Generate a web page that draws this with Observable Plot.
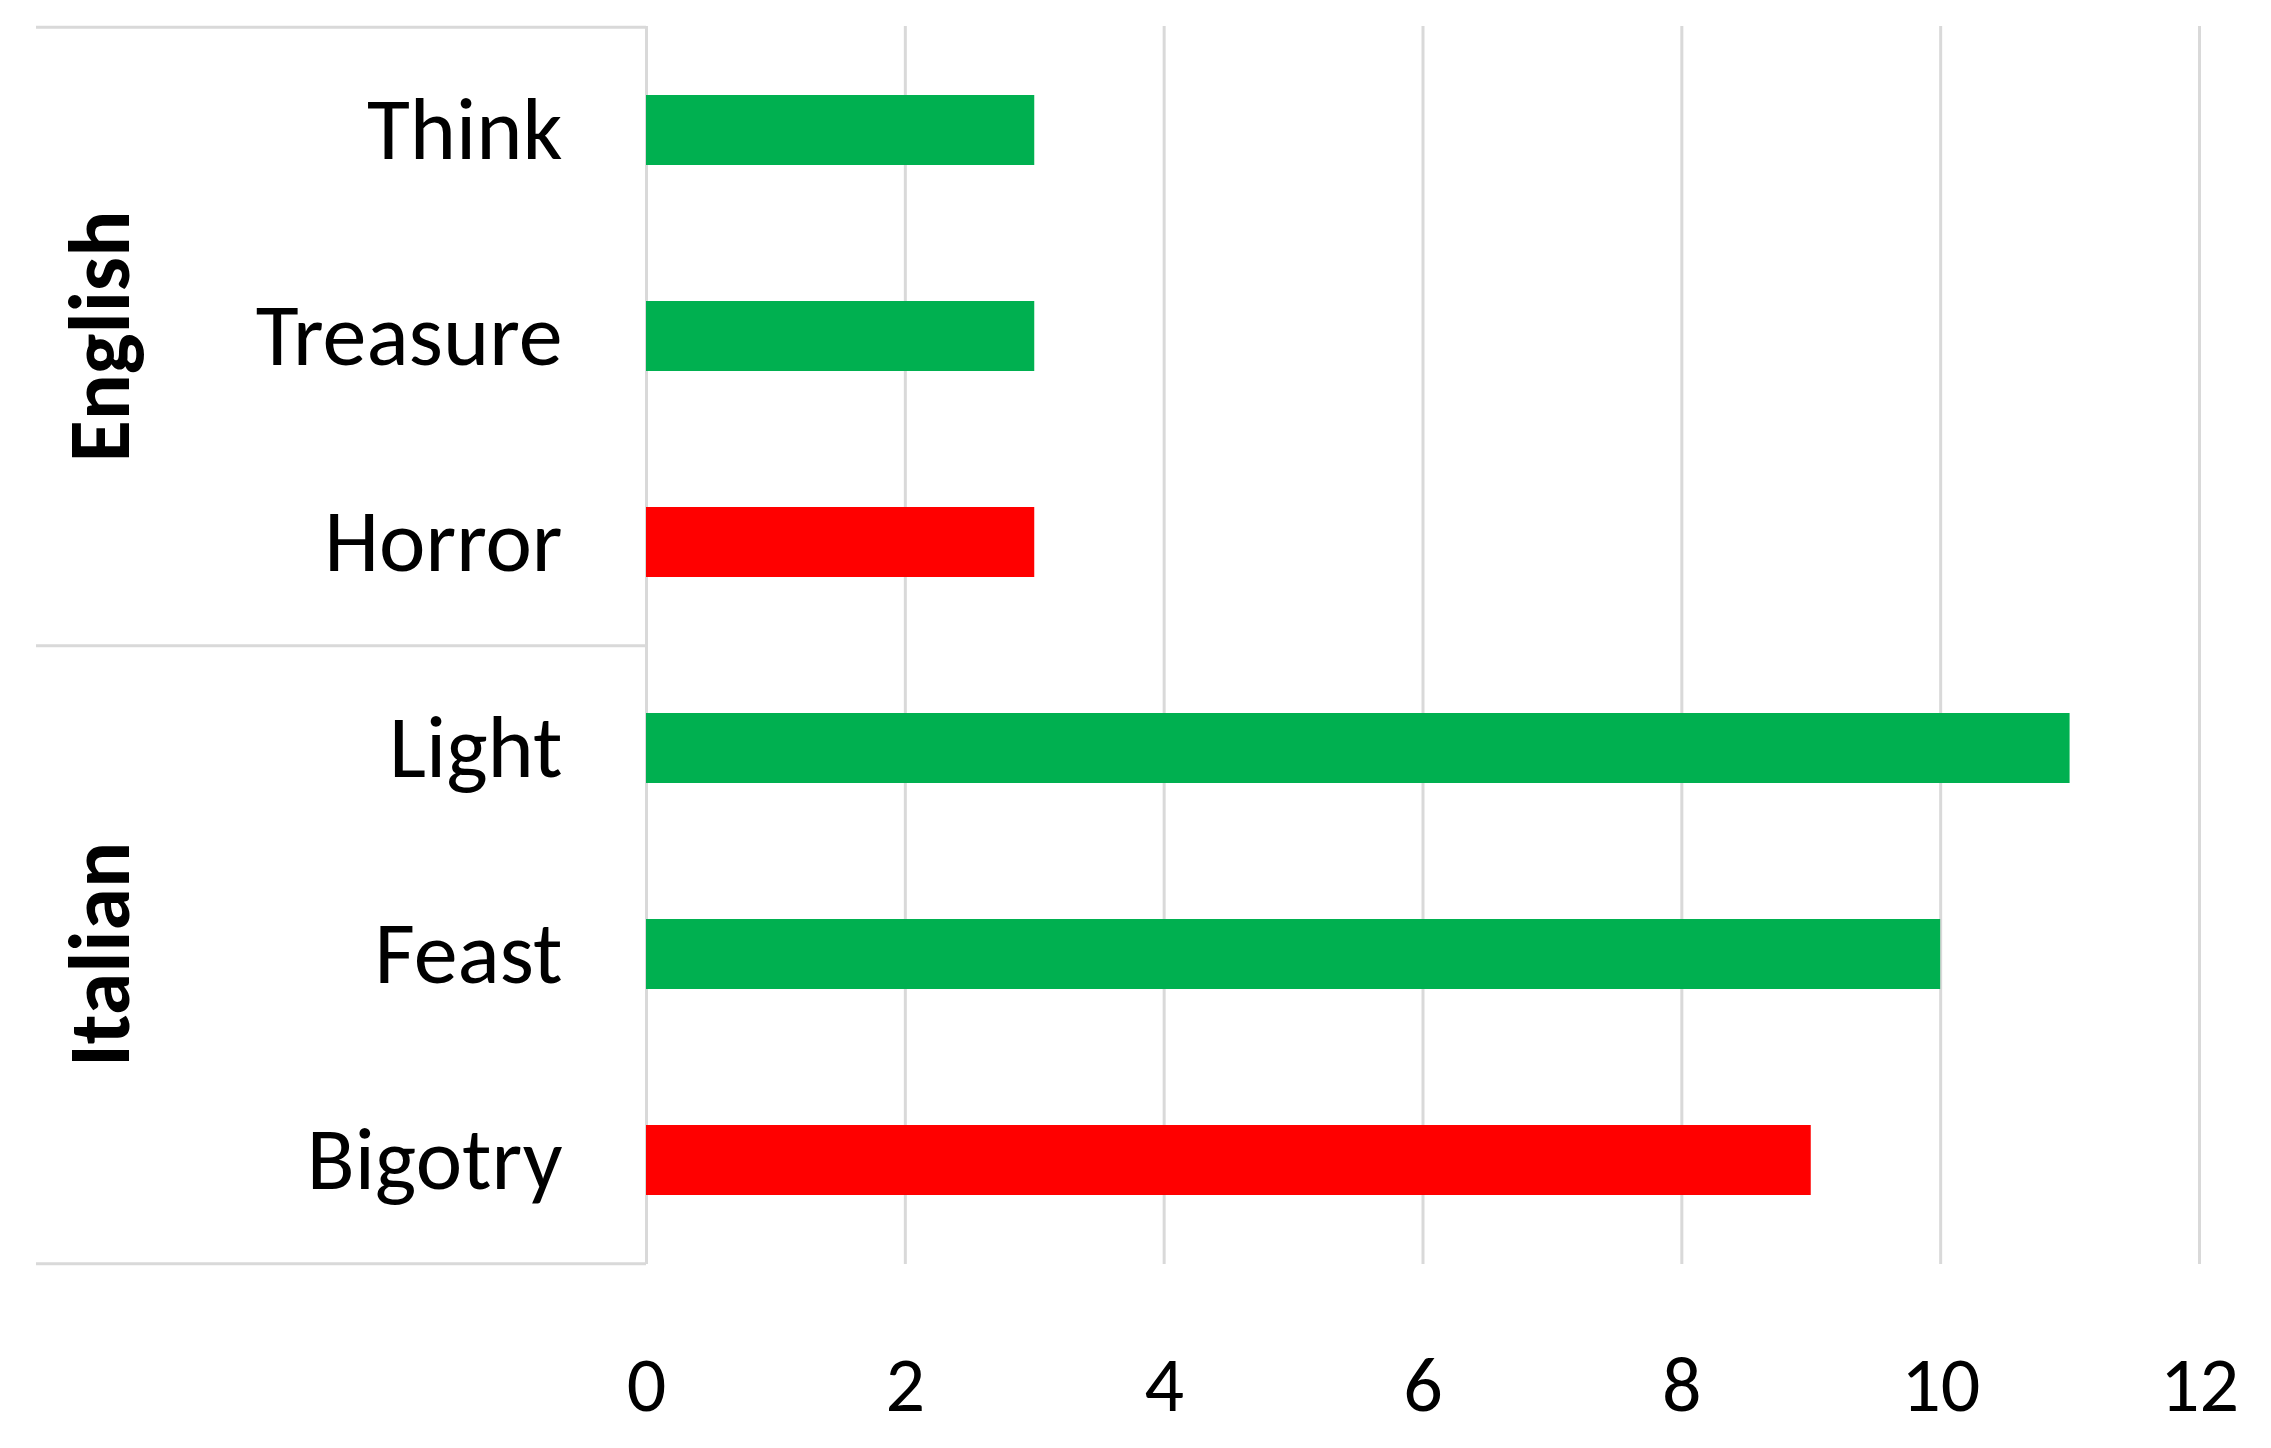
<!DOCTYPE html>
<html>
<head>
<meta charset="utf-8">
<script src="https://cdn.jsdelivr.net/npm/d3@7"></script>
<script src="https://cdn.jsdelivr.net/npm/@observablehq/plot@0.6"></script>
<style>
  html, body { margin: 0; padding: 0; background: #fff; }
  svg { display: block; }
</style>
</head>
<body>
<div id="chart"></div>
<script>
const words = ["Think", "Treasure", "Horror", "Light", "Feast", "Bigotry"];
const languages = ["English", "English", "English", "Italian", "Italian", "Italian"];
const values = [3, 3, 3, 11, 10, 9];
const sentiments = ["positive", "positive", "negative", "positive", "positive", "negative"];
const xTicks = [0, 2, 4, 6, 8, 10, 12];
const groupLabels = ["English", "Italian"];
const groupCenters = ["Treasure", "Feast"];
const groupTops = ["Think"];
const groupBottoms = ["Horror", "Bigotry"];

const data = words.map((w, i) => ({word: w, language: languages[i], value: values[i], sentiment: sentiments[i]}));

const W = 2271, H = 1448;
const mTop = 26, mBottom = 184, mLeft = 646, mRight = 72;
const step = (H - mTop - mBottom) / words.length;
const boxLeft = 36;
const font = "Carlito, Calibri, Lato, sans-serif";
const gray = "#d9d9d9";

function boxRender(index, scales, vals, dims, context, next) {
  const g = next(index, scales, vals, dims, context);
  g.querySelectorAll("line").forEach(l => {
    l.setAttribute("x1", boxLeft);
    l.setAttribute("x2", dims.marginLeft);
  });
  return g;
}

const chart = Plot.plot({
  width: W,
  height: H,
  marginTop: mTop,
  marginBottom: mBottom,
  marginLeft: mLeft,
  marginRight: mRight,
  style: {fontFamily: font, background: "#fff", color: "#000"},
  x: {domain: [0, 12], ticks: xTicks},
  y: {domain: words, paddingInner: 0.66, paddingOuter: 0.33},
  color: {domain: ["positive", "negative"], range: ["#00B050", "#FF0000"]},
  marks: [
    Plot.gridX(xTicks, {stroke: gray, strokeOpacity: 1, strokeWidth: 3}),
    Plot.ruleY(groupTops, {y: d => d, dy: -step / 2, stroke: gray, strokeWidth: 3, render: boxRender}),
    Plot.ruleY(groupBottoms, {y: d => d, dy: step / 2, stroke: gray, strokeWidth: 3, render: boxRender}),
    Plot.barX(data, {x: "value", y: "word", fill: "sentiment"}),
    Plot.axisX(xTicks, {tickSize: 0, tickPadding: 91, fontSize: 78, fill: "#000", label: null, tickFormat: d => String(d)}),
    Plot.axisY({tickSize: 0, tickPadding: 84, fontSize: 88, fill: "#000", label: null}),
    Plot.text(groupLabels, {
      y: (d, i) => groupCenters[i],
      text: d => d,
      frameAnchor: "left",
      dx: -545,
      rotate: -90,
      textAnchor: "middle",
      fontSize: 86,
      fontWeight: "bold",
      fill: "#000"
    })
  ]
});

document.getElementById("chart").appendChild(chart);
</script>
</body>
</html>
